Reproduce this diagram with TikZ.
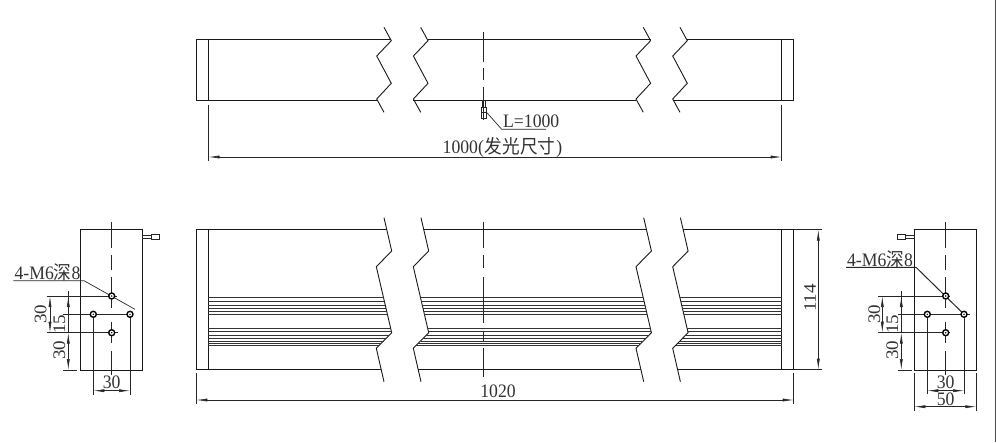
\documentclass[tikz,border=0pt]{standalone}
\usepackage{fontspec}
\setmainfont{Liberation Serif}
\newfontfamily\cjk{Noto Sans CJK SC}
\usetikzlibrary{arrows.meta}
\tikzset{
  body/.style={draw=black!90,line width=0.9pt},
  thinline/.style={draw=black!85,line width=0.7pt},
  dimline/.style={draw=black!85,line width=0.6pt},
  rib/.style={draw=black!80,line width=0.6pt},
  dimtext/.style={font=\fontsize{19}{19}\selectfont,text=black!80,inner sep=0pt,xscale=0.93,transform shape},
  hole/.style={draw=black,line width=1.4pt,fill=white,circle,inner sep=0pt,minimum size=6pt}
}
\newcommand{\zigtop}[1]{
  \path[draw,body] (384+#1,27.3) -- (391.3+#1,40.7) -- (376.7+#1,56) -- (391.3+#1,83.3) -- (376.7+#1,99) -- (384+#1,112.3);
}
\newcommand{\zigfront}[1]{
  \path[draw,body] (384+#1,217.7) -- (391.7+#1,251) -- (376.3+#1,266.7) -- (391.7+#1,332.7) -- (376.3+#1,348.3) -- (384+#1,381.7);
}
\begin{document}
\begin{tikzpicture}[x=1pt,y=-1pt,>={Latex[length=11pt,width=3pt]}]
\useasboundingbox (0,0) rectangle (996,442);
\path[draw,draw=black!70,line width=0.7pt] (995.3,0) -- (995.3,442);
% top view
\begin{scope}
\path[draw,body] (208.5,39) -- (196,39) -- (196,100.7) -- (208.5,100.7);
\path[draw,body] (208.5,39) -- (208.5,100.7);
\path[draw,body] (208.5,39) -- (391.3,39);
\path[draw,body] (428,39) -- (650.7,39);
\path[draw,body] (687.3,39) -- (793.7,39) -- (793.7,100.7) -- (781.7,100.7);
\path[draw,body] (781.7,39) -- (781.7,100.7);
\path[draw,body] (208.5,100.7) -- (376.7,100.7);
\path[draw,body] (413.3,100.7) -- (636,100.7);
\path[draw,body] (672.7,100.7) -- (781.7,100.7);
\foreach \bx in {0,36.7,259.3,296} {\zigtop{\bx}}
\foreach \ya/\yb in {31.7/61.7,68/80,86.7/120} {
  \path[draw,thinline] (483.6,\ya) -- (483.6,\yb);
}
\path[draw,thinline] (482,100.7) rectangle (485.3,107);
\path[draw,thinline] (481,107) rectangle (486,118);
\path[draw,thinline] (481,112) -- (486,112);
\node[dimtext,anchor=west] (lenlabel) at (503,121) {L=1000};
\path[draw,thinline] (486,111.7) -- (501.7,129.3) -- (546,129.3);
\path[draw,dimline] (208.5,104.7) -- (208.5,161);
\path[draw,dimline] (781.7,104.7) -- (781.7,161);
\path[draw,dimline,<->] (208.5,157) -- (781.7,157);
\node[dimtext] (lightlabel) at (502.5,147.5) {1000(\kern1pt{\cjk 发光尺寸}\kern1pt)};
\end{scope}
% front view
\begin{scope}
\path[draw,body] (208.3,229.7) -- (196.3,229.7) -- (196.3,369.7) -- (208.3,369.7);
\path[draw,body] (208.3,229.7) -- (208.3,369.7);
\path[draw,body] (208.3,229.7) -- (386.8,229.7);
\path[draw,body] (423.4,229.7) -- (646.4,229.7);
\path[draw,body] (683,229.7) -- (793.7,229.7) -- (793.7,369.7) -- (781.7,369.7);
\path[draw,body] (781.7,229.7) -- (781.7,369.7);
\path[draw,body] (208.3,369.7) -- (381.2,369.7);
\path[draw,body] (418.2,369.7) -- (641,369.7);
\path[draw,body] (677.7,369.7) -- (781.7,369.7);
\foreach \bx in {0,37,259.7,296.4} {\zigfront{\bx}}
\foreach \y/\dx in {297.7/7.2,301.3/8.1,305/8.9,308.3/9.7,311.3/10.4,314.3/11.1,328.7/14.5,331.7/15.2,335/13.1,338.3/9.9,341/7.2,343.3/4.9,345.3/3} {
  \path[draw,rib] (208.3,\y) -- (376.3+\dx,\y);
  \path[draw,rib] (413.3+\dx,\y) -- (636+\dx,\y);
  \path[draw,rib] (672.7+\dx,\y) -- (781.7,\y);
}
\foreach \ya/\yb in {222/248,255/268,276.7/323,331.7/341.7,348.3/377.3} {
  \path[draw,thinline] (483.3,\ya) -- (483.3,\yb);
}
\path[draw,dimline] (196.3,373.3) -- (196.3,403.7);
\path[draw,dimline] (793.7,373.3) -- (793.7,403.7);
\path[draw,dimline,<->] (196.3,400) -- (793.7,400);
\node[dimtext] (widthlabel) at (498,391) {1020};
\path[draw,dimline] (793.7,229.7) -- (822,229.7);
\path[draw,dimline] (793.7,369.7) -- (822,369.7);
\path[draw,dimline,<->] (818.3,229.7) -- (818.3,369.7);
\node[dimtext,rotate=90] (heightlabel) at (810,298) {114};
\end{scope}
% left view
\begin{scope}
\path[draw,body] (80.7,229.7) rectangle (142.7,370);
\foreach \ya/\yb in {222/248,255/270,277/308,322/343,351/375} {
  \path[draw,thinline] (111.7,\ya) -- (111.7,\yb);
}
\path[draw,thinline] (142.7,235.7) rectangle (151.7,238.3);
\path[draw,thinline] (151.7,234.3) rectangle (159.3,239.3);
\path[draw,dimline] (46.7,296) -- (116.7,296);
\path[draw,dimline] (46.7,332.7) -- (118,332.7);
\path[draw,dimline] (63.3,314.3) -- (133,314.3);
\path[draw,dimline] (63.3,370) -- (77.3,370);
\path[draw,dimline,<->] (50,296) -- (50,332.7);
\path[draw,dimline] (68.3,291) -- (68.3,332.7);
\path[draw,dimline,<-] (68.3,296) -- (68.3,314.3);
\path[draw,dimline,<->] (68.3,332.7) -- (68.3,370);
\path[draw,dimline] (93.3,314.3) -- (93.3,395);
\path[draw,dimline] (130,314.3) -- (130,395);
\path[draw,dimline,<->] (93.3,390.7) -- (130,390.7);
\path[draw,thinline] (13.3,280.7) -- (84,280.7) -- (135,309.3);
\node[hole] (holeA) at (111.7,296) {};
\node[hole] (holeB) at (93.3,314.3) {};
\node[hole] (holeC) at (130,314.3) {};
\node[hole] (holeD) at (111.7,332.7) {};
\foreach \h in {holeA,holeB,holeC,holeD} {
  \fill (\h) circle (0.8pt);
}
\node[dimtext] (threadL) at (47.5,272.3) {4-M6{\cjk 深}8};
\node[dimtext,rotate=90] (pitchA) at (40.7,314.3) {30};
\node[dimtext,rotate=90] (pitchB) at (59.3,324) {15};
\node[dimtext,rotate=90] (pitchC) at (59.3,350) {30};
\node[dimtext] (pitchD) at (111.7,382) {30};
\end{scope}
% right view
\begin{scope}
\path[draw,body] (914.3,229.7) rectangle (976.3,370);
\foreach \ya/\yb in {222/248,255/270,277/308,322/343,351/375} {
  \path[draw,thinline] (945.7,\ya) -- (945.7,\yb);
}
\path[draw,thinline] (905,235.7) rectangle (914.3,238.3);
\path[draw,thinline] (897.3,234.3) rectangle (905,239.3);
\path[draw,dimline] (878.3,296) -- (950,296);
\path[draw,dimline] (878.3,332.7) -- (950,332.7);
\path[draw,dimline] (897.7,314.3) -- (970,314.3);
\path[draw,dimline] (897.7,370) -- (912.3,370);
\path[draw,dimline,<->] (882.3,296) -- (882.3,332.7);
\path[draw,dimline] (901.3,291) -- (901.3,332.7);
\path[draw,dimline,<-] (901.3,296) -- (901.3,314.3);
\path[draw,dimline,<->] (901.3,332.7) -- (901.3,370);
\path[draw,dimline] (927.3,314.3) -- (927.3,394);
\path[draw,dimline] (964,314.3) -- (964,394);
\path[draw,dimline,<->] (927.3,390.7) -- (964,390.7);
\path[draw,dimline] (914.3,373.3) -- (914.3,410.7);
\path[draw,dimline] (976.3,373.3) -- (976.3,410.7);
\path[draw,dimline,<->] (914.3,406.7) -- (976.3,406.7);
\path[draw,thinline,line width=1pt] (846,267.3) -- (916,267.3) -- (964,314.3);
\node[hole] (holeE) at (945.7,296) {};
\node[hole] (holeF) at (927.3,314.3) {};
\node[hole] (holeG) at (964,314.3) {};
\node[hole] (holeH) at (945.7,332.7) {};
\foreach \h in {holeE,holeF,holeG,holeH} {
  \fill (\h) circle (0.8pt);
}
\node[dimtext] (threadR) at (880,259.3) {4-M6{\cjk 深}8};
\node[dimtext,rotate=90] (pitchE) at (874.3,314) {30};
\node[dimtext,rotate=90] (pitchF) at (892.3,324) {15};
\node[dimtext,rotate=90] (pitchG) at (892.3,350) {30};
\node[dimtext] (pitchH) at (945.7,382) {30};
\node[dimtext] (depthlabel) at (945.7,399.5) {50};
\end{scope}
\end{tikzpicture}
\end{document}
